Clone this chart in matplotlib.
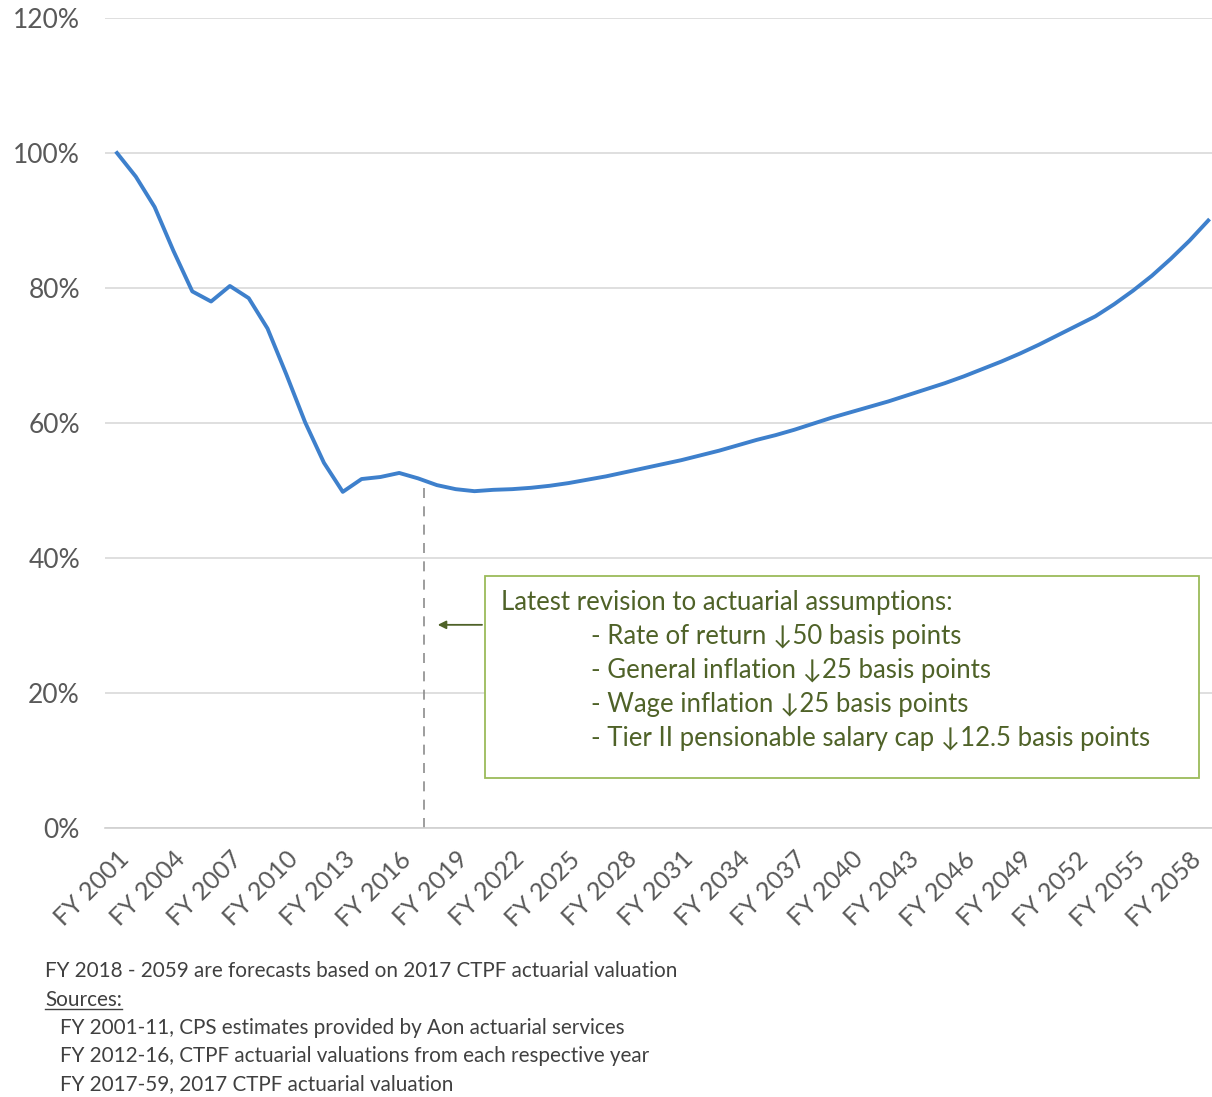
import matplotlib.pyplot as plt
from matplotlib.patches import Rectangle
from matplotlib.lines import Line2D

plt.rcParams['font.family'] = ['Lato', 'DejaVu Sans']

years = list(range(2001, 2060))
funded_ratio = [100, 96.5, 92, 85.5, 79.5, 78, 80.3, 78.5, 74, 67.2,
                60.1, 54.1, 49.8, 51.7, 52.0, 52.6, 51.8, 50.8, 50.2, 49.9,
                50.1, 50.2, 50.4, 50.7, 51.1, 51.6, 52.1, 52.7, 53.3, 53.9,
                54.5, 55.2, 55.9, 56.7, 57.5, 58.2, 59.0, 59.9, 60.8, 61.6,
                62.4, 63.2, 64.1, 65.0, 65.9, 66.9, 68.0, 69.1, 70.3, 71.6,
                73.0, 74.4, 75.8, 77.6, 79.6, 81.8, 84.3, 87.0, 90.0]
tick_years = years[::3]
y_ticks = [0, 20, 40, 60, 80, 100, 120]
revision_x = 16.3  # position between FY 2017 and FY 2018
revision_y = 51.0

box_lines = ["Latest revision to actuarial assumptions:",
             "- Rate of return \u219350 basis points",
             "- General inflation \u219325 basis points",
             "- Wage inflation \u219325 basis points",
             "- Tier II pensionable salary cap \u219312.5 basis points"]

notes = ["FY 2018 - 2059 are forecasts based on 2017 CTPF actuarial valuation",
         "Sources:",
         "FY 2001-11, CPS estimates provided by Aon actuarial services",
         "FY 2012-16, CTPF actuarial valuations from each respective year",
         "FY 2017-59, 2017 CTPF actuarial valuation"]

fig = plt.figure(figsize=(12.12, 10.97), dpi=100)
ax = fig.add_axes([0.0866, 0.2452, 0.9134, 0.7384])

x = list(range(len(years)))
ax.plot(x, funded_ratio, color='#3E80CC', linewidth=2.8, solid_joinstyle='round')

ax.set_xlim(-0.64, 58.2)
ax.set_ylim(0, 120)
ax.set_yticks(y_ticks)
ax.set_yticklabels([f"{v}%" for v in y_ticks], fontsize=19, color='#595959')
ax.set_xticks([years.index(y) for y in tick_years])
ax.set_xticklabels([f"FY {y}" for y in tick_years], rotation=45, ha='right',
                   rotation_mode='anchor', fontsize=18, color='#595959')
ax.tick_params(axis='both', length=0)
ax.tick_params(axis='y', pad=18)
ax.tick_params(axis='x', pad=14)
ax.grid(axis='y', color='#D9D9D9', linewidth=1.2)
ax.set_axisbelow(True)
for side in ['top', 'right', 'left']:
    ax.spines[side].set_visible(False)
ax.spines['bottom'].set_color('#D0D0D0')
ax.spines['bottom'].set_linewidth(1.2)

# dashed marker for the revision year
ax.plot([revision_x, revision_x], [0, revision_y], color='#8C8C8C',
        linewidth=1.2, linestyle=(0, (6, 5)))

# annotation box
box = Rectangle((19.55, 7.4), 37.95, 29.9, facecolor='white', edgecolor='#9BBB59',
                linewidth=1.3, zorder=3)
ax.add_patch(box)
ax.annotate('', xy=(16.9, 30.1), xytext=(19.55, 30.1),
            arrowprops=dict(arrowstyle='-|>', color='#4F6228', lw=1.3, mutation_scale=12),
            zorder=4)
ax.text(20.4, 33.4, box_lines[0], fontsize=18.5, color='#4F6228', va='center', zorder=5)
for i, line in enumerate(box_lines[1:]):
    ax.text(25.2, 28.4 - i * 5.05, line, fontsize=18.5, color='#4F6228', va='center', zorder=5)

# footnotes
note_y = [971, 1000, 1028, 1056, 1084]
note_x = [45, 45, 60, 60, 60]
for txt, nx, ny in zip(notes, note_x, note_y):
    t = fig.text(nx / 1212, 1 - ny / 1097, txt, fontsize=14.9, color='#404040', va='center')
    if txt == "Sources:":
        sources_text = t

fig.canvas.draw()
bb = sources_text.get_window_extent()
uy = (bb.y0 + 1) / fig.bbox.height
fig.add_artist(Line2D([bb.x0 / fig.bbox.width, bb.x1 / fig.bbox.width], [uy, uy],
                      color='#404040', linewidth=1.0))

fig.savefig('out.png', dpi=100, facecolor='white')
